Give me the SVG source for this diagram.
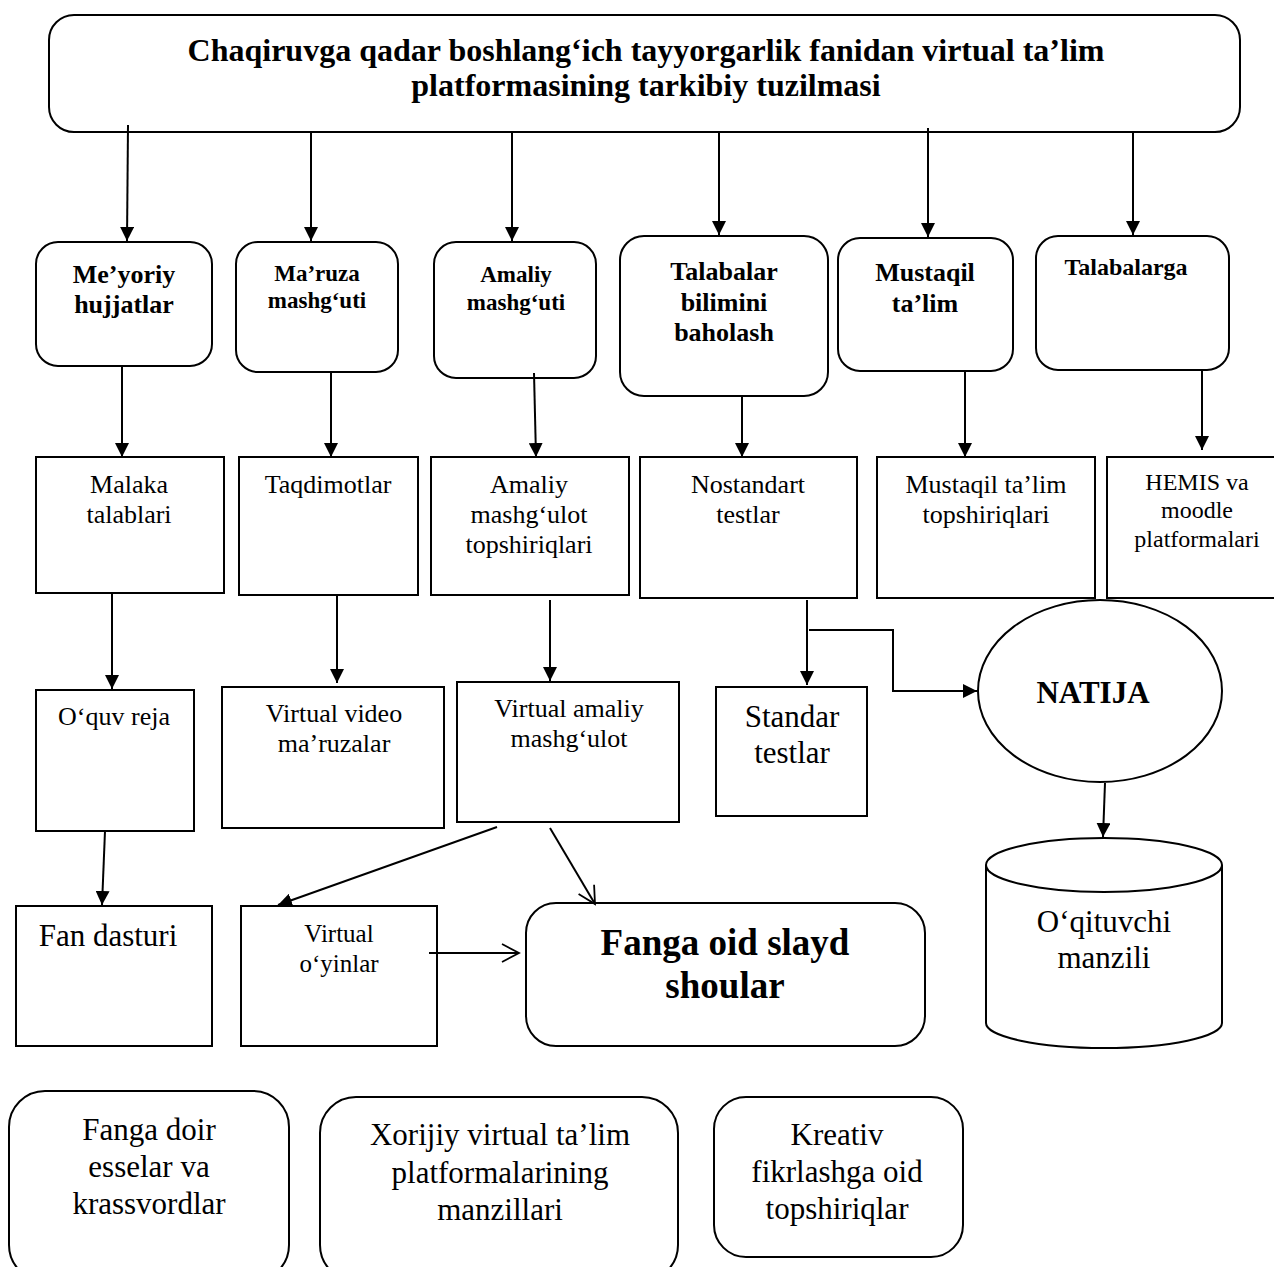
<svg xmlns="http://www.w3.org/2000/svg" width="1274" height="1267" viewBox="0 0 1274 1267">
<style>
.box{fill:#fff;stroke:#000;stroke-width:2}
.t{font-family:"Liberation Serif","Times New Roman",serif;text-anchor:middle;fill:#000}
.b{font-weight:bold}
.c{stroke:#000;stroke-width:2;fill:none}
</style>
<defs>
<marker id="ah" markerUnits="userSpaceOnUse" markerWidth="15" markerHeight="14" refX="14" refY="7" orient="auto"><path d="M0,0 L14,7 L0,14 z" fill="#000"/></marker>
<marker id="oh" markerUnits="userSpaceOnUse" markerWidth="20" markerHeight="22" refX="18" refY="10" orient="auto"><path d="M1,1 L18,10 L1,19" fill="none" stroke="#000" stroke-width="1.8"/></marker>
</defs>
<rect width="1274" height="1267" fill="#fff"/>

<g id="title"><rect class="box" x="49" y="15" width="1191" height="117" rx="25"/>
<text class="t b" x="646" y="61" font-size="32">Chaqiruvga qadar boshlang‘ich tayyorgarlik fanidan virtual ta’lim</text>
<text class="t b" x="646" y="96" font-size="32">platformasining tarkibiy tuzilmasi</text></g>

<g id="n-meyoriy"><rect class="box" x="36" y="242" width="176" height="124" rx="22"/>
<text class="t b" x="124" y="283" font-size="26">Me’yoriy</text><text class="t b" x="124" y="313" font-size="26">hujjatlar</text></g>
<g id="n-maruza"><rect class="box" x="236" y="242" width="162" height="130" rx="22"/>
<text class="t b" x="317" y="281" font-size="23">Ma’ruza</text><text class="t b" x="317" y="308" font-size="23">mashg‘uti</text></g>
<g id="n-amaliy"><rect class="box" x="434" y="242" width="162" height="136" rx="22"/>
<text class="t b" x="516" y="282" font-size="23">Amaliy</text><text class="t b" x="516" y="310" font-size="23">mashg‘uti</text></g>
<g id="n-talabalar"><rect class="box" x="620" y="236" width="208" height="160" rx="24"/>
<text class="t b" x="724" y="280" font-size="26">Talabalar</text><text class="t b" x="724" y="311" font-size="26">bilimini</text><text class="t b" x="724" y="341" font-size="26">baholash</text></g>
<g id="n-mustaqil"><rect class="box" x="838" y="238" width="175" height="133" rx="22"/>
<text class="t b" x="925" y="281" font-size="26">Mustaqil</text><text class="t b" x="925" y="312" font-size="26">ta’lim</text></g>
<g id="n-talabalarga"><rect class="box" x="1036" y="236" width="193" height="134" rx="22"/>
<text class="t b" x="1126" y="275" font-size="24">Talabalarga</text></g>

<g id="n-malaka"><rect class="box" x="36" y="457" width="188" height="136"/>
<text class="t" x="129" y="493" font-size="26">Malaka</text><text class="t" x="129" y="523" font-size="26">talablari</text></g>
<g id="n-taqdimot"><rect class="box" x="239" y="457" width="179" height="138"/>
<text class="t" x="328" y="493" font-size="26">Taqdimotlar</text></g>
<g id="n-amaliy-top"><rect class="box" x="431" y="457" width="198" height="138"/>
<text class="t" x="529" y="493" font-size="26">Amaliy</text><text class="t" x="529" y="523" font-size="26">mashg‘ulot</text><text class="t" x="529" y="553" font-size="26">topshiriqlari</text></g>
<g id="n-nostandart"><rect class="box" x="640" y="457" width="217" height="141"/>
<text class="t" x="748" y="493" font-size="26">Nostandart</text><text class="t" x="748" y="523" font-size="26">testlar</text></g>
<g id="n-mustaqil-top"><rect class="box" x="877" y="457" width="218" height="141"/>
<text class="t" x="986" y="493" font-size="26">Mustaqil ta’lim</text><text class="t" x="986" y="523" font-size="26">topshiriqlari</text></g>
<g id="n-hemis"><rect class="box" x="1107" y="457" width="180" height="141"/>
<text class="t" x="1197" y="490" font-size="24">HEMIS va</text><text class="t" x="1197" y="518" font-size="24">moodle</text><text class="t" x="1197" y="547" font-size="24">platformalari</text></g>

<g id="n-oquv"><rect class="box" x="36" y="690" width="158" height="141"/>
<text class="t" x="114" y="725" font-size="26">O‘quv reja</text></g>
<g id="n-video"><rect class="box" x="222" y="687" width="222" height="141"/>
<text class="t" x="334" y="722" font-size="26">Virtual video</text><text class="t" x="334" y="752" font-size="26">ma’ruzalar</text></g>
<g id="n-vamaliy"><rect class="box" x="457" y="682" width="222" height="140"/>
<text class="t" x="569" y="717" font-size="26">Virtual amaliy</text><text class="t" x="569" y="747" font-size="26">mashg‘ulot</text></g>
<g id="n-standar"><rect class="box" x="716" y="687" width="151" height="129"/>
<text class="t" x="792" y="727" font-size="31">Standar</text><text class="t" x="792" y="763" font-size="31">testlar</text></g>
<g id="n-natija"><ellipse class="box" cx="1100" cy="691" rx="122" ry="91"/>
<text class="t b" x="1093" y="703" font-size="31">NATIJA</text></g>
<g id="n-oqituvchi"><path class="box" d="M986,865 L986,1023 A118,25 0 0 0 1222,1023 L1222,865"/>
<ellipse class="box" cx="1104" cy="865" rx="118" ry="27"/>
<text class="t" x="1104" y="932" font-size="31">O‘qituvchi</text><text class="t" x="1104" y="968" font-size="31">manzili</text></g>

<g id="n-fandasturi"><rect class="box" x="16" y="906" width="196" height="140"/>
<text class="t" x="108" y="946" font-size="31">Fan dasturi</text></g>
<g id="n-oyinlar"><rect class="box" x="241" y="906" width="196" height="140"/>
<text class="t" x="339" y="942" font-size="25">Virtual</text><text class="t" x="339" y="972" font-size="25">o‘yinlar</text></g>
<g id="n-slayd"><rect class="box" x="526" y="903" width="399" height="143" rx="30"/>
<text class="t b" x="725" y="955" font-size="37">Fanga oid slayd</text><text class="t b" x="725" y="998" font-size="37">shoular</text></g>

<g id="n-esselar"><rect class="box" x="9" y="1091" width="280" height="190" rx="36"/>
<text class="t" x="149" y="1140" font-size="31">Fanga doir</text><text class="t" x="149" y="1177" font-size="31">esselar va</text><text class="t" x="149" y="1214" font-size="31">krassvordlar</text></g>
<g id="n-xorijiy"><rect class="box" x="320" y="1097" width="358" height="184" rx="36"/>
<text class="t" x="500" y="1145" font-size="31">Xorijiy virtual ta’lim</text><text class="t" x="500" y="1183" font-size="31">platformalarining</text><text class="t" x="500" y="1220" font-size="31">manzillari</text></g>
<g id="n-kreativ"><rect class="box" x="714" y="1097" width="249" height="160" rx="32"/>
<text class="t" x="837" y="1145" font-size="31">Kreativ</text><text class="t" x="837" y="1182" font-size="31">fikrlashga oid</text><text class="t" x="837" y="1219" font-size="31">topshiriqlar</text></g>

<g id="connectors">
<line class="c" x1="128" y1="125" x2="127" y2="241" marker-end="url(#ah)"/>
<line class="c" x1="311" y1="132" x2="311" y2="241" marker-end="url(#ah)"/>
<line class="c" x1="512" y1="132" x2="512" y2="241" marker-end="url(#ah)"/>
<line class="c" x1="719" y1="132" x2="719" y2="235" marker-end="url(#ah)"/>
<line class="c" x1="928" y1="128" x2="928" y2="237" marker-end="url(#ah)"/>
<line class="c" x1="1133" y1="132" x2="1133" y2="235" marker-end="url(#ah)"/>

<line class="c" x1="122" y1="366" x2="122" y2="457" marker-end="url(#ah)"/>
<line class="c" x1="331" y1="372" x2="331" y2="457" marker-end="url(#ah)"/>
<line class="c" x1="534" y1="373" x2="536" y2="457" marker-end="url(#ah)"/>
<line class="c" x1="742" y1="396" x2="742" y2="457" marker-end="url(#ah)"/>
<line class="c" x1="965" y1="371" x2="965" y2="457" marker-end="url(#ah)"/>
<line class="c" x1="1202" y1="370" x2="1202" y2="450" marker-end="url(#ah)"/>

<line class="c" x1="112" y1="593" x2="112" y2="689" marker-end="url(#ah)"/>
<line class="c" x1="337" y1="595" x2="337" y2="683" marker-end="url(#ah)"/>
<line class="c" x1="550" y1="600" x2="550" y2="681" marker-end="url(#ah)"/>
<line class="c" x1="807" y1="600" x2="807" y2="685" marker-end="url(#ah)"/>
<polyline class="c" points="809,630 893,630 893,691 977,691" marker-end="url(#ah)"/>
<line class="c" x1="1105" y1="783" x2="1103" y2="837" marker-end="url(#ah)"/>

<line class="c" x1="105" y1="831" x2="102" y2="905" marker-end="url(#ah)"/>
<line class="c" x1="497" y1="827" x2="278" y2="905" marker-end="url(#ah)"/>
<line class="c" x1="550" y1="828" x2="595" y2="904" marker-end="url(#oh)"/>
<line class="c" x1="429" y1="953" x2="519" y2="953" marker-end="url(#oh)"/>
</g>
</svg>
